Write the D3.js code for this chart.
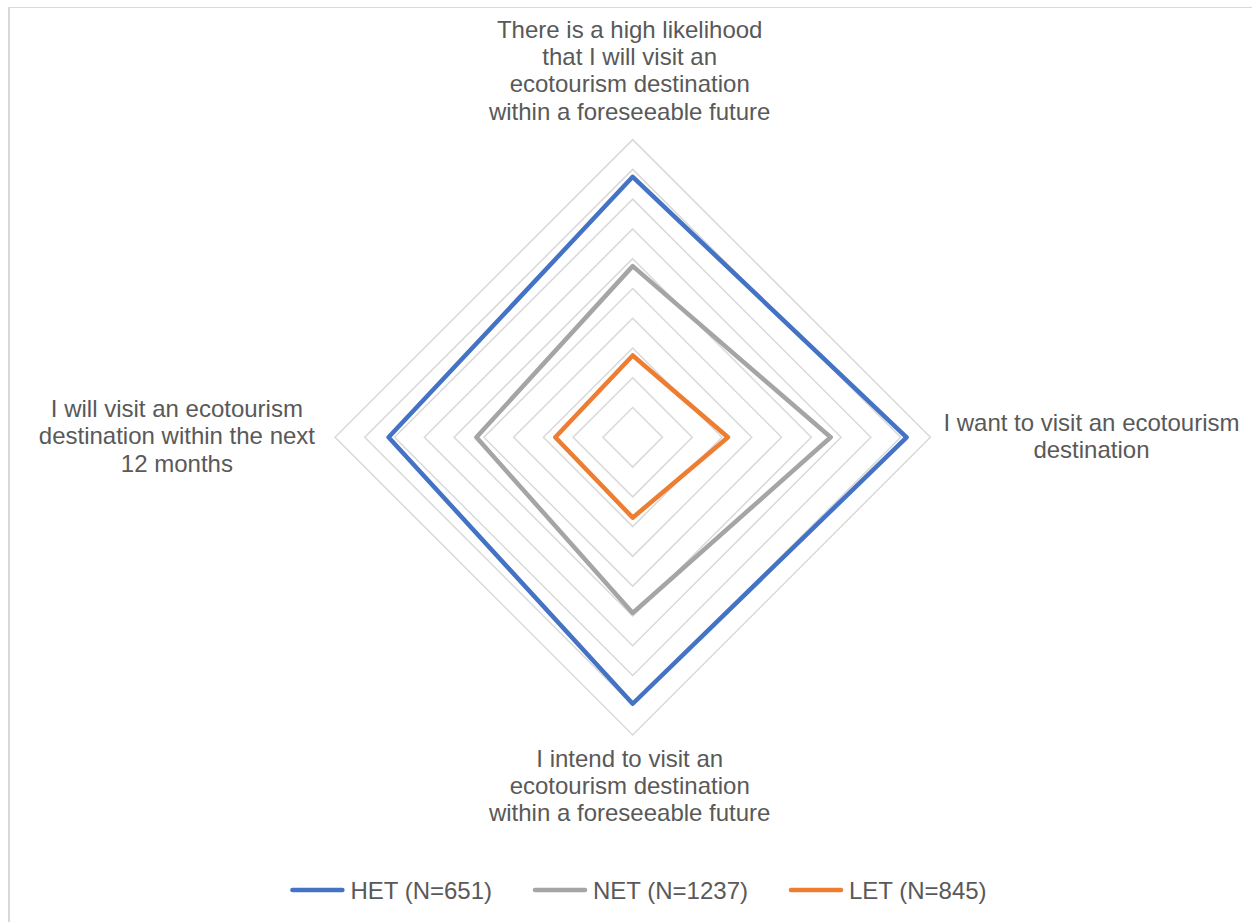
<!DOCTYPE html>
<html>
<head>
<meta charset="utf-8">
<script src="https://cdn.jsdelivr.net/npm/d3@7"></script>
<style>
  html, body { margin: 0; padding: 0; background: #fff; }
  svg { display: block; font-family: "Liberation Sans", Arial, sans-serif; }
</style>
</head>
<body>
<svg id="chart" width="1252" height="922"></svg>
<script>
// ---- data ----
const categories = [
  ["There is a high likelihood", "that I will visit an", "ecotourism destination", "within a foreseeable future"],
  ["I want to visit an ecotourism", "destination"],
  ["I intend to visit an", "ecotourism destination", "within a foreseeable future"],
  ["I will visit an ecotourism", "destination within the next", "12 months"]
];
const seriesNames = ["HET (N=651)", "NET (N=1237)", "LET (N=845)"];
const hetValues = [3.75, 3.84, 3.79, 3.64];
const netValues = [3.15, 3.33, 3.18, 3.05];
const letValues = [2.55, 2.64, 2.54, 2.52];
const gridTicks = [2.2, 2.4, 2.6, 2.8, 3.0, 3.2, 3.4, 3.6, 3.8, 4.0];
const axisMin = 2.0, axisMax = 4.0;
const seriesColors = ["#4472C4", "#A5A5A5", "#ED7D31"];

// ---- layout ----
const svg = d3.select("#chart");
const W = 1252, H = 922;
const cx = 632.7, cy = 437.3, R = 297.7;
const textColor = "#595959";
const fontSize = 24, lineH = 27.2;

// border
svg.append("line").attr("x1", 9).attr("x2", 9).attr("y1", 7).attr("y2", H + 5)
  .attr("stroke", "#d9d9d9").attr("stroke-width", 2);
svg.append("line").attr("x1", 8).attr("x2", W + 5).attr("y1", 7.5).attr("y2", 7.5)
  .attr("stroke", "#d9d9d9").attr("stroke-width", 1);

const r = d3.scaleLinear().domain([axisMin, axisMax]).range([0, R]);
const n = categories.length;
const angle = d3.scaleLinear().domain([0, n]).range([0, 2 * Math.PI]);

const radial = d3.lineRadial()
  .angle((d, i) => angle(i))
  .radius(d => r(d))
  .curve(d3.curveLinearClosed);

const g = svg.append("g").attr("transform", `translate(${cx},${cy})`);

// grid
g.append("g").selectAll("path").data(gridTicks).join("path")
  .attr("d", t => radial(d3.range(n).map(() => t)))
  .attr("fill", "none")
  .attr("stroke", "#d9d9d9")
  .attr("stroke-width", 1.5);

// series
const allSeries = [hetValues, netValues, letValues];
g.append("g").selectAll("path").data(allSeries).join("path")
  .attr("d", d => radial(d))
  .attr("fill", "none")
  .attr("stroke", (d, i) => seriesColors[i])
  .attr("stroke-width", 4.5)
  .attr("stroke-linejoin", "round");

// category labels
const labelG = svg.append("g")
  .attr("font-size", fontSize).attr("fill", textColor).attr("text-anchor", "middle");

categories.forEach((lines, i) => {
  const t = labelG.append("text");
  const spans = lines.map(l => t.append("tspan").text(l));
  const maxW = d3.max(spans, s => s.node().getComputedTextLength());
  let x, y0;
  if (i === 0) {          // top
    x = cx - 3;
    y0 = cy - R - 20 - (lines.length - 1) * lineH;
  } else if (i === 2) {   // bottom
    x = cx - 3;
    y0 = cy + R + 32;
  } else if (i === 1) {   // right
    x = cx + R + 13 + maxW / 2;
    y0 = cy + 7 - (lines.length - 1) * lineH / 2;
  } else {                // left
    x = cx - R - 20 - maxW / 2;
    y0 = cy + 7 - (lines.length - 1) * lineH / 2;
  }
  spans.forEach((s, k) => s.attr("x", x).attr("y", y0 + k * lineH));
});

// legend
const legend = svg.append("g").attr("font-size", fontSize).attr("fill", textColor);
const swW = 56, swGap = 5, itemGap = 40, legY = 890;
const items = seriesNames.map((name, i) => {
  const gi = legend.append("g");
  const txt = gi.append("text").attr("x", swW + swGap).attr("y", legY + 9).text(name);
  gi.append("line").attr("x1", 3).attr("x2", swW - 3).attr("y1", legY).attr("y2", legY)
    .attr("stroke", seriesColors[i]).attr("stroke-width", 4.5).attr("stroke-linecap", "round");
  return { gi, w: swW + swGap + txt.node().getComputedTextLength() };
});
const totalW = d3.sum(items, d => d.w) + itemGap * (items.length - 1);
let xs = 638 - totalW / 2;
items.forEach(it => { it.gi.attr("transform", `translate(${xs},0)`); xs += it.w + itemGap; });
</script>
</body>
</html>
